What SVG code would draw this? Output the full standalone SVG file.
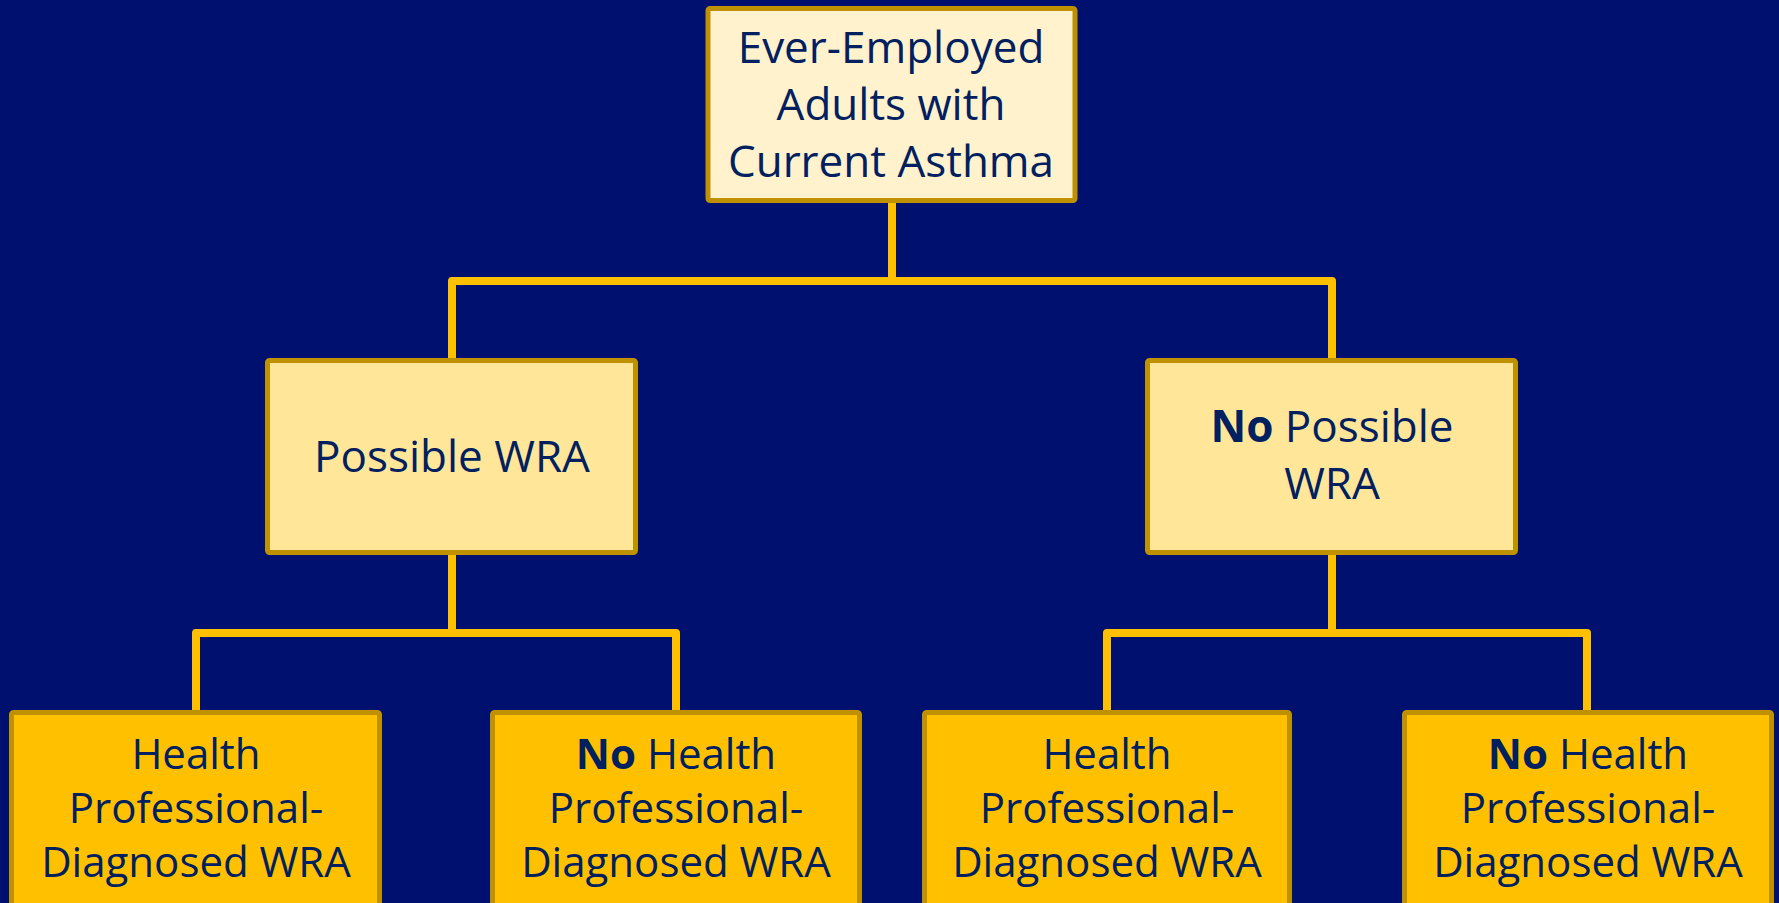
<svg xmlns="http://www.w3.org/2000/svg" width="1779" height="903" viewBox="0 0 1779 903">
<style>
.box{stroke:#BF9000;stroke-width:5}
.l1{fill:#FFF2CC}
.l2{fill:#FFE699}
.l3{fill:#FFC000}
.t{font-family:"Open Sans","Noto Sans",sans-serif;fill:#002060;text-anchor:middle}
.big{font-size:44px}
.sm{font-size:42px}
.b{font-weight:bold}
.con{fill:none;stroke:#FFC000;stroke-width:8;stroke-linejoin:round}
</style>
<rect x="0" y="0" width="1779" height="903" fill="#00106F"/>
<g id="connectors">
<path class="con" d="M892 203 V281 M452 358 V281 H1332 V358"/>
<path class="con" d="M452 555 V633 M196 710 V633 H676 V710"/>
<path class="con" d="M1332 555 V633 M1107 710 V633 H1587 V710"/>
</g>
<g id="root">
<rect class="box l1" x="708" y="8.5" width="367" height="192" rx="2"/>
<text class="t big" x="891" y="63">Ever-Employed</text>
<text class="t big" x="891" y="120">Adults with</text>
<text class="t big" x="891" y="177">Current Asthma</text>
</g>
<g id="possible">
<rect class="box l2" x="267.5" y="360.5" width="368" height="192" rx="2"/>
<text class="t big" x="452" y="472">Possible WRA</text>
</g>
<g id="no-possible">
<rect class="box l2" x="1147.5" y="360.5" width="368" height="192" rx="2"/>
<text class="t big" x="1332" y="442"><tspan class="b">No</tspan> Possible</text>
<text class="t big" x="1332" y="499">WRA</text>
</g>
<g id="hp-1">
<rect class="box l3" x="11.5" y="712.5" width="368" height="200" rx="2"/>
<text class="t sm" x="196" y="769">Health</text>
<text class="t sm" x="196" y="823">Professional-</text>
<text class="t sm" x="196" y="877">Diagnosed WRA</text>
</g>
<g id="no-hp-1">
<rect class="box l3" x="492.5" y="712.5" width="367" height="200" rx="2"/>
<text class="t sm" x="676" y="769"><tspan class="b">No</tspan> Health</text>
<text class="t sm" x="676" y="823">Professional-</text>
<text class="t sm" x="676" y="877">Diagnosed WRA</text>
</g>
<g id="hp-2">
<rect class="box l3" x="924.5" y="712.5" width="365" height="200" rx="2"/>
<text class="t sm" x="1107" y="769">Health</text>
<text class="t sm" x="1107" y="823">Professional-</text>
<text class="t sm" x="1107" y="877">Diagnosed WRA</text>
</g>
<g id="no-hp-2">
<rect class="box l3" x="1404.5" y="712.5" width="367" height="200" rx="2"/>
<text class="t sm" x="1588" y="769"><tspan class="b">No</tspan> Health</text>
<text class="t sm" x="1588" y="823">Professional-</text>
<text class="t sm" x="1588" y="877">Diagnosed WRA</text>
</g>
</svg>
